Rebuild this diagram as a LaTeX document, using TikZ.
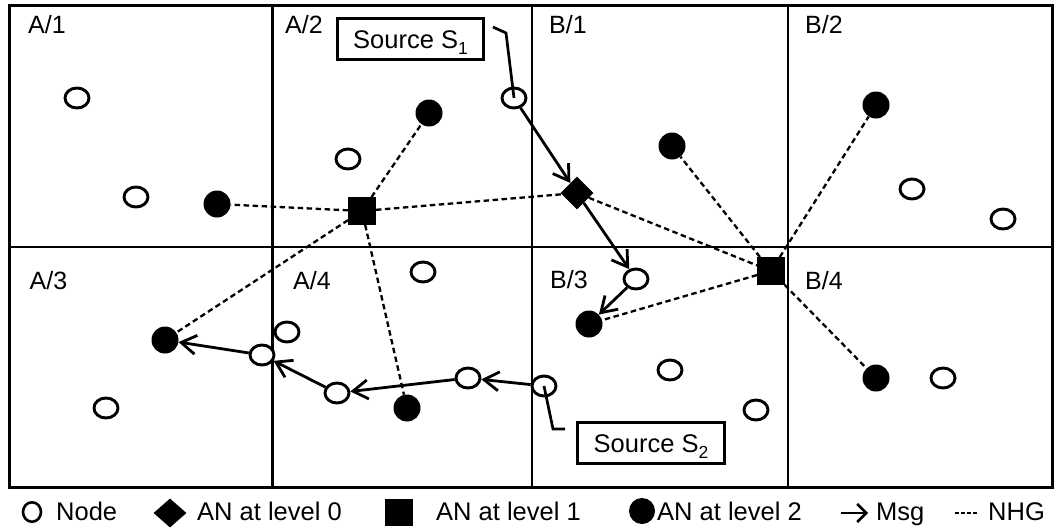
\documentclass[tikz,border=0pt]{standalone}
\usepackage{fontspec}
\setmainfont{Liberation Sans}
\usetikzlibrary{arrows.meta,shapes.geometric}
\begin{document}
\begin{tikzpicture}[x=1pt,y=-1pt,
  plain/.style={ellipse,draw,fill=white,line width=2.9pt,inner sep=0pt,minimum width=24pt,minimum height=20pt},
  lvtwo/.style={circle,fill=black,inner sep=0pt,minimum size=27pt},
  lvone/.style={rectangle,fill=black,inner sep=0pt,minimum size=27.5pt},
  lvzero/.style={diamond,fill=black,inner sep=0pt,minimum width=33pt,minimum height=33pt},
  msg/.style={line width=2.8pt,-{Straight Barb[length=15pt,width=19pt]}},
  nhg/.style={line width=2.3pt,dash pattern=on 5.5pt off 3.5pt},
  cell/.style={anchor=base west,font=\fontsize{25}{29}\selectfont,inner sep=0pt},
  srcbox/.style={draw,line width=2.7pt,fill=white,inner sep=0pt,minimum width=146.5pt,minimum height=41.5pt,
    text height=18pt,text depth=0pt,font=\fontsize{25.5}{30}\selectfont},
  legtext/.style={anchor=base west,font=\fontsize{25.5}{30}\selectfont,inner sep=0pt},
  leader/.style={line width=2.7pt},
  gridline/.style={line width=2.5pt},
]
\useasboundingbox (0,0) rectangle (1055,530);

% grid of cells
\draw[gridline] (272.5,5.5) -- (272.5,487.5);
\draw[gridline] (532,5.5) -- (532,487.5);
\draw[gridline] (788,5.5) -- (788,487.5);
\draw[gridline] (9.5,247) -- (1052.5,247);
\draw[line width=3.2pt] (9.5,5.5) rectangle (1052.5,487.5);

% cell labels
\node[cell] (lA1) at (28,33.5) {A/1};
\node[cell] (lA2) at (285,33.5) {A/2};
\node[cell] (lB1) at (549,33.5) {B/1};
\node[cell] (lB2) at (805,33.5) {B/2};
\node[cell] (lA3) at (29.5,289) {A/3};
\node[cell] (lA4) at (293,289) {A/4};
\node[cell] (lB3) at (550,288.5) {B/3};
\node[cell] (lB4) at (805,289) {B/4};

% cell A/1
\node[plain] (o1) at (77,98) {};
\node[plain] (o2) at (136,197) {};
\node[lvtwo] (f1) at (217,204) {};
% cell A/2
\node[lvtwo] (f2) at (429,113) {};
\node[plain] (o3) at (348,159) {};
\node[lvone] (q1) at (362,211) {};
% cell B/1
\node[plain] (s1) at (514,98) {};
\node[lvzero] (d0) at (577,193) {};
\node[lvtwo] (f3) at (672,146) {};
% cell B/2
\node[lvtwo] (f4) at (876,105) {};
\node[plain] (o4) at (912,189) {};
\node[plain] (o5) at (1003,219) {};
% cell A/3
\node[lvtwo] (f5) at (165,340) {};
\node[plain] (o6) at (262,355) {};
\node[plain] (o7) at (106,408) {};
% cell A/4
\node[plain] (o8) at (423,272) {};
\node[plain] (o9) at (287,332) {};
\node[plain] (o10) at (337,393) {};
\node[lvtwo] (f6) at (407,408) {};
\node[plain] (o11) at (468,378) {};
% cell B/3
\node[plain] (o12) at (636,279) {};
\node[lvtwo] (f7) at (589,324) {};
\node[lvone] (q2) at (771,271) {};
\node[plain] (o13) at (670,370) {};
\node[plain] (o14) at (756,410) {};
\node[plain] (s2) at (544,386) {};
% cell B/4
\node[lvtwo] (f8) at (876,378) {};
\node[plain] (o15) at (943,378) {};

% neighbourhood group links
\draw[nhg] (q1) -- (f1);
\draw[nhg] (q1) -- (f2);
\draw[nhg] (q1) -- (d0);
\draw[nhg] (q1) -- (f5);
\draw[nhg] (q1) -- (f6);
\draw[nhg] (d0) -- (q2);
\draw[nhg] (q2) -- (f3);
\draw[nhg] (q2) -- (f4);
\draw[nhg] (q2) -- (f7);
\draw[nhg] (q2) -- (f8);

% message paths
\draw[msg] (s1) -- (d0);
\draw[msg] (d0) -- (o12);
\draw[msg] (o12) -- (f7);
\draw[msg] (s2) -- (o11);
\draw[msg] (o11) -- (o10);
\draw[msg] (o10) -- (o6);
\draw[msg] (o6) -- (f5);

% sources with leader lines
\node[srcbox] (src1) at (410.5,39) {Source S\raisebox{-6pt}{\fontsize{17.5}{17.5}\selectfont 1}};
\coordinate (k1a) at (493,27);
\coordinate (k1b) at (506,33);
\draw[leader] (k1a) -- (k1b) -- (s1.center);
\node[srcbox] (src2) at (651,443) {Source S\raisebox{-6pt}{\fontsize{17.5}{17.5}\selectfont 2}};
\coordinate (k2a) at (553,429);
\coordinate (k2b) at (565,429);
\draw[leader] (s2.center) -- (k2a) -- (k2b);

% legend
\node[ellipse,draw,line width=2.6pt,inner sep=0pt,minimum width=18pt,minimum height=19.5pt] (gn) at (32,512) {};
\node[legtext] (tn) at (56,520) {Node};
\node[diamond,fill=black,inner sep=0pt,minimum width=33pt,minimum height=29pt] (gd) at (170,513) {};
\node[legtext] (td) at (197,520) {AN at level 0};
\node[rectangle,fill=black,inner sep=0pt,minimum width=27.5pt,minimum height=27pt] (gq) at (399,512.5) {};
\node[legtext] (tq) at (436,520) {AN at level 1};
\node[circle,fill=black,inner sep=0pt,minimum size=26pt] (gf) at (642,511) {};
\node[legtext] (tf) at (657,520) {AN at level 2};
\coordinate (ga) at (841,513);
\coordinate (gb) at (868,513);
\draw[line width=2.6pt,-{Straight Barb[length=9pt,width=18pt]}] (ga) -- (gb);
\node[legtext] (tm) at (876,520) {Msg};
\coordinate (gc) at (955,513);
\coordinate (ge) at (979,513);
\draw[line width=1.4pt,dash pattern=on 3.5pt off 2.5pt] (gc) -- (ge);
\node[legtext] (th) at (988,520) {NHG};
\end{tikzpicture}
\end{document}
